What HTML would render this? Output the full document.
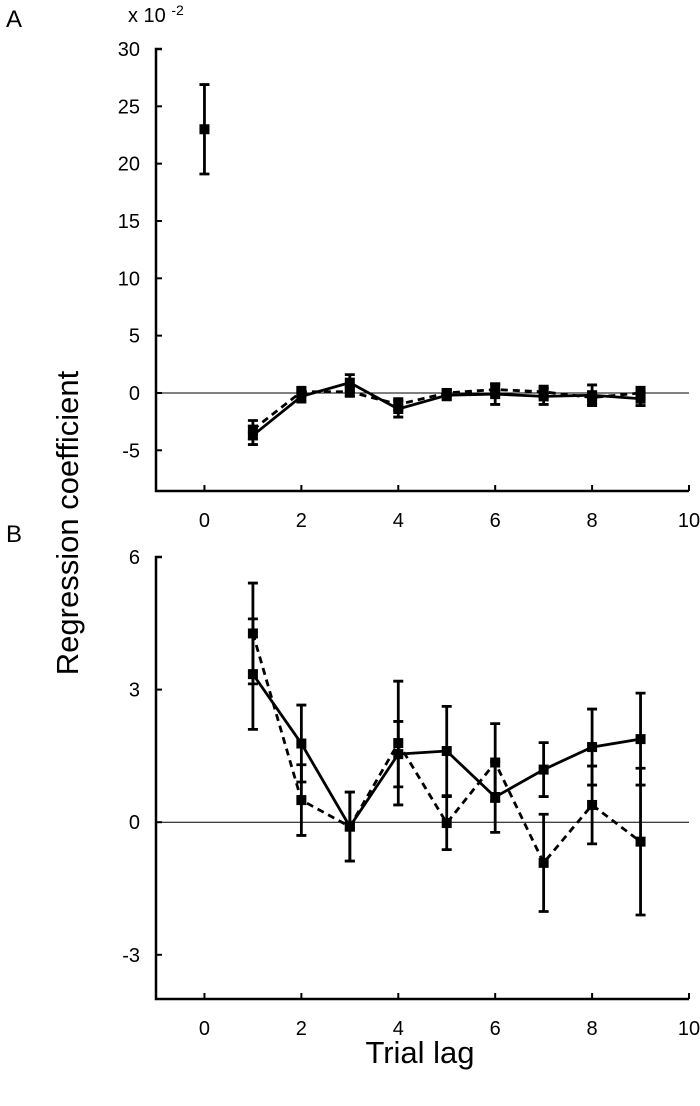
<!DOCTYPE html>
<html><head><meta charset="utf-8"><style>
body{margin:0;background:#fff;}
svg text{font-family:"Liberation Sans",Arial,sans-serif;fill:#000;}
</style></head><body>
<svg id="chart" width="700" height="1101" xmlns="http://www.w3.org/2000/svg">
<text x="6" y="27" font-size="24">A</text>
<text x="6" y="542" font-size="24">B</text>
<text x="128" y="22" font-size="20">x 10 <tspan font-size="14" dy="-7">-2</tspan></text>
<text transform="translate(78,523) rotate(-90)" text-anchor="middle" font-size="31">Regression coefficient</text>
<text x="420" y="1063" text-anchor="middle" font-size="31">Trial lag</text>
<g id="pa"></g>
<g id="pb"></g>
</svg>
<script>
const lags=[1,2,3,4,5,6,7,8,9];
const xTicks=[0,2,4,6,8,10];
// Panel A (x10^-2)
const aLag0Value=23, aLag0Err=3.9;
const aSolid=[-3.7,-0.3,0.9,-1.4,-0.2,-0.1,-0.3,-0.2,-0.5];
const aSolidErr=[0.8,0.5,0.7,0.7,0.4,0.9,0.7,0.9,0.6];
const aDashed=[-3.2,0.1,0.1,-1.0,0.0,0.3,0.1,-0.4,0.0];
const aDashedErr=[0.8,0.4,0.4,0.5,0.3,0.5,0.5,0.5,0.5];
const aYTicks=[30,25,20,15,10,5,0,-5];
// Panel B
const bSolid=[3.35,1.78,-0.1,1.54,1.61,0.57,1.19,1.70,1.88];
const bSolidErr=[1.25,0.87,0.78,0.74,1.01,0.80,0.61,0.86,1.04];
const bDashed=[4.27,0.50,-0.1,1.79,-0.02,1.35,-0.92,0.39,-0.44];
const bDashedErr=[1.14,0.80,0.78,1.40,0.60,0.88,1.10,0.88,1.66];
const bYTicks=[6,3,0,-3];

const NS="http://www.w3.org/2000/svg";
function mk(p,t,a){const e=document.createElementNS(NS,t);for(const k in a)e.setAttribute(k,a[k]);p.appendChild(e);return e;}
function panel(g,cfg){
  const X=v=>cfg.x0+(v-cfg.xmin)*(cfg.x1-cfg.x0)/(cfg.xmax-cfg.xmin);
  const Y=v=>cfg.yTop+(cfg.ymax-v)*(cfg.yBot-cfg.yTop)/(cfg.ymax-cfg.ymin);
  const ax=mk(g,'path',{d:`M${X(cfg.xmin)+6},${Y(cfg.ymax)} H${X(cfg.xmin)} V${Y(cfg.ymin)} H${X(cfg.xmax)}`,fill:'none',stroke:'#000','stroke-width':2.5});
  
  
  const zl=mk(g,'line',{x1:X(cfg.xmin),x2:X(cfg.xmax),y1:Y(0),y2:Y(0),stroke:'#000','stroke-width':1});
  
  
  cfg.yt.forEach(v=>{
    const t=mk(g,'line',{x1:X(cfg.xmin),x2:X(cfg.xmin)+6,y1:Y(v),y2:Y(v),stroke:'#000','stroke-width':2});
    
    
    const l=mk(g,'text',{x:X(cfg.xmin)-16,y:Y(v)+7,'text-anchor':'end','font-size':20});
    l.textContent=v;
    
    
  });
  xTicks.forEach(v=>{
    const t=mk(g,'line',{x1:X(v),x2:X(v),y1:Y(cfg.ymin),y2:Y(cfg.ymin)-6,stroke:'#000','stroke-width':2});
    
    
    const l=mk(g,'text',{x:X(v),y:Y(cfg.ymin)+36,'text-anchor':'middle','font-size':20});
    l.textContent=v;
    
    
  });
  function series(vals,errs,dash,name){
    const pts=lags.map((l,i)=>X(l)+','+Y(vals[i])).join(' ');
    const pl=mk(g,'polyline',{points:pts,fill:'none',stroke:'#000','stroke-width':2.8,'stroke-dasharray':dash?'7,5':'none'});
    
    
    lags.forEach((l,i)=>errbar(l,vals[i],errs[i],name));
  }
  function errbar(l,v,e,name){
    const x=X(l);
    const b=mk(g,'path',{d:`M${x},${Y(v+e)} V${Y(v-e)} M${x-5},${Y(v+e)} H${x+5} M${x-5},${Y(v-e)} H${x+5}`,stroke:'#000','stroke-width':2.8,fill:'none'});
    
    
    const m=mk(g,'rect',{x:x-5,y:Y(v)-5,width:10,height:10,fill:'#000'});
    
    
  }
  cfg.draw(series,errbar);
}
panel(document.getElementById('pa'),{x0:156,x1:689,xmin:-1,xmax:10,yTop:49,yBot:491,ymax:30,ymin:-8.55,yt:aYTicks,
  draw:(s,e)=>{s(aDashed,aDashedErr,true,'a-dashed');s(aSolid,aSolidErr,false,'a-solid');e(0,aLag0Value,aLag0Err,'a-lag0');}});
panel(document.getElementById('pb'),{x0:156,x1:689,xmin:-1,xmax:10,yTop:557,yBot:999,ymax:6,ymin:-4,yt:bYTicks,
  draw:(s)=>{s(bDashed,bDashedErr,true,'b-dashed');s(bSolid,bSolidErr,false,'b-solid');}});
</script>
</body></html>
